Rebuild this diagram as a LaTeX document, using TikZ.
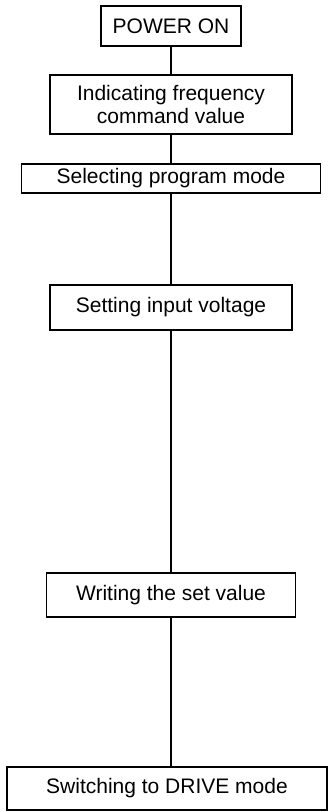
\documentclass[tikz,border=0pt]{standalone}
\usepackage{fontspec}
\setmainfont{Liberation Sans}
\usepackage{tikz}

\begin{document}
\begin{tikzpicture}[x=1pt, y=-1pt,
        stage/.style={draw, line width=1.8pt, inner sep=0pt, outer sep=0pt, align=center,
            font=\fontsize{21}{23.5}\selectfont}]
    \useasboundingbox (0,0) rectangle (329,812);
    % the boxes, top to bottom
    \node[stage, minimum width=140, minimum height=40] (power) at (171,26) {POWER ON};
    \node[stage, minimum width=242, minimum height=59] (indic) at (171,104.5) {Indicating frequency\\command value};
    \node[stage, minimum width=299, minimum height=29] (select) at (171,178.5) {Selecting program mode};
    \node[stage, minimum width=242, minimum height=45] (setin) at (171,307.5) {Setting input voltage};
    \node[stage, minimum width=249, minimum height=44] (write) at (171,595) {Writing the set value};
    \node[stage, minimum width=320, minimum height=43] (drive) at (167,788.5) {Switching to DRIVE mode};
    % the line joining them
    \draw[line width=1.8pt] (power) -- (indic) -- (select) -- (setin) -- (write);
    \draw[line width=1.8pt] (write.south) -- (write.south |- drive.north);
\end{tikzpicture}
\end{document}
